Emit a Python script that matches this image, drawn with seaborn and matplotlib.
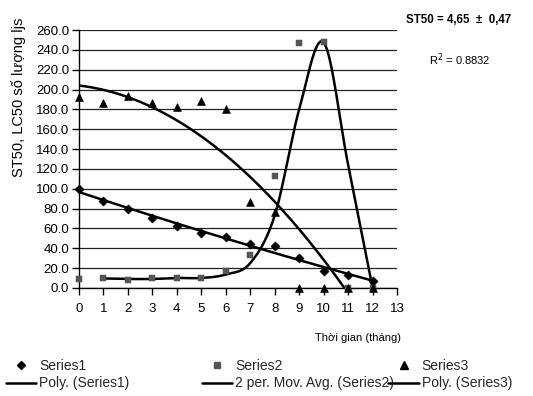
import numpy as np
import pandas as pd
import matplotlib
matplotlib.use("Agg")
import matplotlib.pyplot as plt
import seaborn as sns
from matplotlib.lines import Line2D

months = list(range(13))
series1 = [100, 88, 80, 70, 62, 55, 51, 44, 42, 30, 17, 13, 7]
series2 = [9, 10, 8, 10, 10, 10, 17, 33, 113, 247, 248, 0, 0]
series3 = [193, 186, 194, 186, 182, 188, 180, 87, 77, 0, 0, 0, 0]
yticks = np.arange(0, 261, 20)
xticks = list(range(14))

sns.set_theme(style="white")
plt.rcParams['font.family'] = ['Liberation Sans', 'DejaVu Sans']

fig = plt.figure(figsize=(5.33, 3.96), dpi=100)
ax = fig.add_axes([0.148, 0.273, 0.597, 0.651])

df = pd.DataFrame({"x": months, "s1": series1, "s2": series2, "s3": series3})

# polynomial trendlines
xx = np.linspace(0, 12, 300)
p1 = np.polyfit(df.x, df.s1, 2)
p3 = np.polyfit(df.x, df.s3, 2)
ax.plot(xx, np.polyval(p1, xx), color="black", lw=1.8, zorder=3)
ax.plot(xx, np.polyval(p3, xx), color="black", lw=1.8, zorder=3)

# 2 period moving average, smoothed like Excel
ma = df.s2.rolling(2).mean()
mx = df.x[1:].to_numpy(dtype=float)
my = ma[1:].to_numpy(dtype=float)
P = np.column_stack([mx, my])
pts = []
for i in range(len(P) - 1):
    p0 = P[i - 1] if i > 0 else P[i]
    q1 = P[i]
    q2 = P[i + 1]
    q3 = P[i + 2] if i + 2 < len(P) else P[i + 1]
    c1 = q1 + (q2 - p0) / 6.0
    c2 = q2 - (q3 - q1) / 6.0
    t = np.linspace(0, 1, 40)[:, None]
    seg = ((1 - t) ** 3) * q1 + 3 * ((1 - t) ** 2) * t * c1 + 3 * (1 - t) * t ** 2 * c2 + t ** 3 * q2
    pts.append(seg)
pts = np.vstack(pts)
ax.plot(pts[:, 0], pts[:, 1], color="black", lw=1.8, zorder=3)

sns.scatterplot(data=df, x="x", y="s1", marker="D", s=22, color="black", edgecolor="black",
                ax=ax, zorder=4, legend=False, clip_on=False)
sns.scatterplot(data=df, x="x", y="s2", marker="s", s=20, color="#555555", edgecolor="#555555",
                ax=ax, zorder=4, legend=False, clip_on=False)
sns.scatterplot(data=df, x="x", y="s3", marker="^", s=32, color="black", edgecolor="black",
                ax=ax, zorder=4, legend=False, clip_on=False)

ax.set_xlim(0, 13)
ax.set_ylim(0, 260)
ax.set_xticks(xticks)
ax.set_yticks(yticks)
ax.set_yticklabels([f"{v:.1f}" for v in yticks])
ax.set_xticklabels([str(v) for v in xticks])
ax.yaxis.grid(True, color="#222222", lw=0.9)
ax.xaxis.grid(False)
for s in ["top", "right"]:
    ax.spines[s].set_visible(False)
for s in ["left", "bottom"]:
    ax.spines[s].set_color("black")
    ax.spines[s].set_linewidth(1)
ax.tick_params(axis="both", direction="out", length=5, width=1, color="black",
               labelsize=9.5, labelcolor="black", bottom=True, left=True)
ax.tick_params(axis="x", pad=6)
ax.tick_params(axis="y", pad=2)
ax.set_xlabel("")
ax.set_ylabel("")

fig.text(0.034, 0.755, "ST50, LC50 số lượng ljs", rotation=90,
         ha="center", va="center", fontsize=10.5, color="black")
fig.text(0.672, 0.146, "Thời gian (tháng)", ha="center", va="center", fontsize=8, color="black")
fig.text(0.762, 0.949, "ST50 = 4,65  ±  0,47", ha="left", va="center", fontsize=8.3,
         fontweight="bold", color="black")
fig.text(0.805, 0.848, "R$^2$ = 0.8832", ha="left", va="center", fontsize=8, color="black")

def leg(handles, labels, x):
    fig.legend(handles, labels, loc="lower left", bbox_to_anchor=(x, 0.0), frameon=False,
               fontsize=10, handlelength=2.2, handletextpad=0.2, labelspacing=0.25,
               borderaxespad=0.2, borderpad=0.2)

line = Line2D([], [], color="black", lw=1.8)
leg([Line2D([], [], marker="D", color="black", ls="", ms=4.5), line], ["Series1", "Poly. (Series1)"], 0.0)
leg([Line2D([], [], marker="s", color="#555555", ls="", ms=4.5), line], ["Series2", "2 per. Mov. Avg. (Series2)"], 0.368)
leg([Line2D([], [], marker="^", color="black", ls="", ms=5.5), line], ["Series3", "Poly. (Series3)"], 0.718)

fig.savefig("out.png", dpi=100)
